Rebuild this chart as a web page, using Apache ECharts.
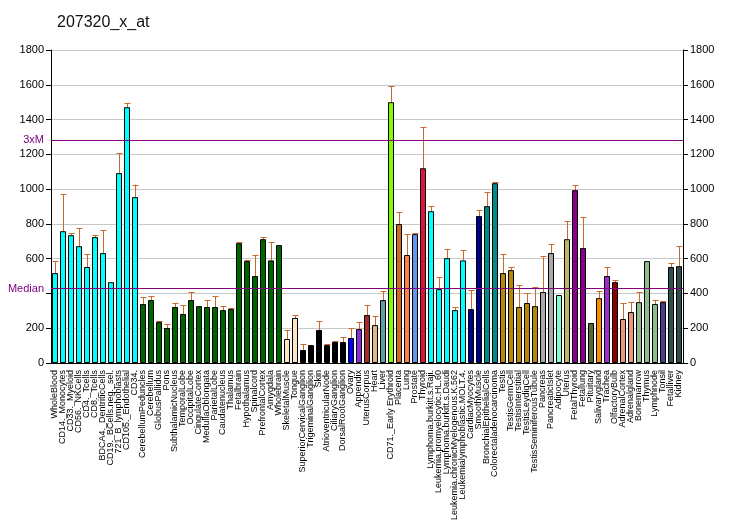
<!DOCTYPE html>
<html><head><meta charset="utf-8">
<script src="https://cdn.jsdelivr.net/npm/echarts@6/dist/echarts.min.js"></script>
<style>html,body{margin:0;padding:0;background:#fff}#c{width:732px;height:530px}</style>
</head><body><div id="c"></div>
<script>
const categories = ["WholeBlood","CD14._Monocytes","CD33._Myeloid","CD56._NKCells","CD4._Tcells","CD8._Tcells","BDCA4._DentriticCells","CD19._BCells.neg._sel.","721_B_lymphoblasts","CD105._Endothelial","CD34.","CerebellumPeduncles","Cerebellum","GlobusPallidus","Pons","SubthalamicNucleus","TemporalLobe","OccipitalLobe","CingulateCortex","MedullaOblongata","ParietalLobe","Caudatenucleus","Thalamus","Fetalbrain","Hypothalamus","Spinalcord","PrefrontalCortex","Amygdala","Wholebrain","SkeletalMuscle","Tongue","SuperiorCervicalGanglion","TrigeminalGanglion","Skin","AtrioventricularNode","CiliaryGanglion","DorsalRootGanglion","Ovary","Appendix","UterusCorpus","Heart","Liver","CD71._Early Erythroid","Placenta","Lung","Prostate","Thyroid","Lymphoma.burkitt.s.Raji.","Leukemia.promyelocytic.HL.60","Lymphoma.burkitt.s.Daudi","Leukemia.chronicMyelogenous.K.562","Leukemialymphoblastic.MOLT.4.","CardiacMyocytes","SmoothMuscle","BronchialEpithelialCells","Colorectaladenocarcinoma","Testis","TestisGermCell","TestisInterstitial","TestisLeydigCell","TestisSeminiferousTubule","Pancreas","PancreaticIslet","Adipocyte","Uterus","FetalThyroid","Fetallung","Pituitary","Salivarygland","Trachea","OlfactoryBulb","AdrenalCortex","Adrenalgland","Bonemarrow","Thymus","Lymphnode","Tonsil","Fetalliver","Kidney"];
const values = [517,758,735,672,552,724,632,465,1092,1471,954,339,362,236,201,322,282,362,327,322,322,304,310,689,586,500,712,590,678,138,259,75,103,190,103,121,121,144,195,276,218,362,1500,799,621,741,1120,873,425,603,304,590,310,845,902,1034,517,534,322,345,327,408,632,391,712,994,661,230,373,500,465,253,293,350,586,339,350,552,557];
const errors = [67,213,12,104,74,11,132,0,115,23,72,38,23,5,23,23,51,46,0,40,63,23,6,6,6,121,12,105,0,52,17,34,0,51,6,5,28,57,41,57,52,52,92,69,120,6,236,29,69,52,18,59,110,34,80,6,109,18,126,57,110,207,52,0,104,29,178,0,41,52,12,92,57,58,0,23,6,23,115];
const colors = ["#00FFFF","#00FFFF","#00FFFF","#00FFFF","#00FFFF","#00FFFF","#00FFFF","#00FFFF","#00FFFF","#00FFFF","#00FFFF",
"#006400","#006400","#006400","#006400","#006400","#006400","#006400","#006400","#006400","#006400","#006400","#006400","#006400","#006400","#006400","#006400","#006400","#006400",
"#FFE4C4","#FFE4C4","#000000","#000000","#000000","#000000","#000000","#000000",
"#0000FF","#8A2BE2","#A52A2A","#DEB887","#5F9EA0","#7FFF00","#D2691E","#FF7F50","#6495ED","#DC143C",
"#00FFFF","#00FFFF","#00FFFF","#00FFFF","#00FFFF","#00008B","#00008B","#008B8B","#008B8B",
"#B8860B","#B8860B","#B8860B","#B8860B","#B8860B","#A9A9A9","#A9A9A9","#7FFFD4","#BDB76B","#8B008B","#8B008B",
"#556B2F","#FF8C00","#9932CC","#8B0000","#E9967A","#E9967A","#8FBC8F","#8FBC8F","#8FBC8F","#483D8B","#2F4F4F","#2F4F4F"];
const leftHiddenTicks = [400];
const medianValue = 427;
const threeXM = 1281;

const chart = echarts.init(document.getElementById('c'), null, {renderer:'canvas'});
const font = "'Liberation Sans', Arial, sans-serif";
function axisCfg(pos, hide){
  return {
    type:'value', position:pos, min:0, max:1800, interval:200,
    axisLine:{show:true, lineStyle:{color:'#000'}},
    axisTick:{show:true, length:5, lineStyle:{color:'#000'}},
    axisLabel:{color:'#000', fontSize:11, fontFamily:font, margin:7,
      formatter:function(v){ return hide.indexOf(v) >= 0 ? '' : String(v); }},
    splitLine:{show: pos==='left', lineStyle:{color:'#C8C8C8'}}
  };
}
chart.setOption({
  animation:false,
  title:{text:'207320_x_at', left:52, top:10, textStyle:{fontFamily:font, fontSize:16, fontWeight:'normal', color:'#111'}},
  grid:{left:51, right:49, top:50, bottom:167, containLabel:false},
  xAxis:{type:'category', data:categories,
    axisLine:{lineStyle:{color:'#000'}},
    axisTick:{alignWithLabel:true, length:4, lineStyle:{color:'#000'}},
    axisLabel:{rotate:90, interval:0, fontSize:9, fontFamily:font, color:'#000', margin:7}},
  yAxis:[ axisCfg('left', leftHiddenTicks), axisCfg('right', []) ],
  series:[
    {type:'bar', barWidth:6, data:values.map((v,i)=>({value:v, itemStyle:{color:colors[i]}})),
     itemStyle:{borderColor:'#000', borderWidth:1},
     markLine:{symbol:'none', silent:true,
       data:[
         {yAxis:threeXM, lineStyle:{color:'#800080', width:1, type:'solid'}, label:{formatter:'3xM', position:'start', color:'#800080', fontSize:11, fontFamily:font, distance:7}},
         {yAxis:medianValue, lineStyle:{color:'#800080', width:1, type:'solid'}, label:{formatter:'Median', position:'start', color:'#800080', fontSize:11, fontFamily:font, distance:7}}
       ]}},
    {type:'custom', data:values.map((v,i)=>[i, v, v+errors[i]]), z:1,
     renderItem:function(params, api){
       const i = api.value(0);
       if (api.value(2) <= api.value(1)) return null;
       const p0 = api.coord([i, api.value(1)]);
       const p1 = api.coord([i, api.value(2)]);
       const x = Math.round(p0[0])+0.5;
       const st = {stroke:'#C8692D', lineWidth:1};
       return {type:'group', children:[
         {type:'line', shape:{x1:x, y1:p0[1], x2:x, y2:p1[1]}, style:st},
         {type:'line', shape:{x1:x-3, y1:Math.round(p1[1])+0.5, x2:x+3, y2:Math.round(p1[1])+0.5}, style:st}
       ]};
     }}
  ]
});
</script></body></html>
